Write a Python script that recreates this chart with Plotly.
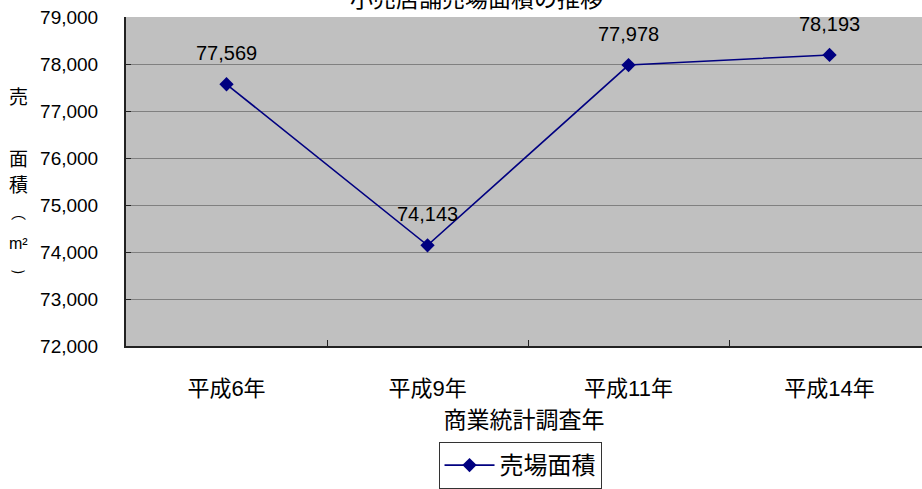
import plotly.graph_objects as go

categories = ["平成6年", "平成9年", "平成11年", "平成14年"]
values = [77569, 74143, 77978, 78193]
y_ticks = [72000, 73000, 74000, 75000, 76000, 77000, 78000, 79000]
y_tick_labels = [f"{v:,}" for v in y_ticks]

FONT = "Liberation Sans, Arial, Noto Sans CJK JP"
NAVY = "#000080"

fig = go.Figure()
fig.add_trace(go.Scatter(
    x=categories, y=values, mode="lines+markers", name="売場面積",
    line=dict(color=NAVY, width=1.6),
    marker=dict(symbol="diamond", size=11, color=NAVY),
))

annotations = []
for c, v in zip(categories, values):
    annotations.append(dict(x=c, y=v, xref="x", yref="y", text=f"{v:,}",
                            showarrow=False, yanchor="middle", yshift=31,
                            font=dict(size=20, color="black", family=FONT)))

# vertical y-axis title characters: (text, pixel y, size, family)
CJK = "Noto Sans CJK JP"
ARC = "DejaVu Sans, Noto Sans CJK JP"
ytitle_chars = [("売", 97, 19, CJK), ("面", 160, 19, CJK), ("積", 186, 19, CJK),
                ("⌒", 227, 15, ARC), ("m²", 247, 16, FONT),
                ("‿", 268, 15, ARC)]
for ch, py, sz, fam in ytitle_chars:
    annotations.append(dict(x=0, xshift=18 - 126, xref="paper", y=(351 - py) / 334, yref="paper",
                            text=ch, showarrow=False, xanchor="center", yanchor="middle",
                            borderpad=0,
                            font=dict(size=sz, color="black", family=fam)))

annotations.append(dict(x=0.44, xref="paper", y=1 + 18 / 334, yref="paper",
                        text="小売店舗売場面積の推移", showarrow=False,
                        xanchor="center", yanchor="middle",
                        font=dict(size=23, color="black", family=FONT)))

fig.update_layout(
    width=922, height=489,
    margin=dict(l=126, r=0, t=17, b=138),
    paper_bgcolor="white", plot_bgcolor="#c0c0c0",
    font=dict(family=FONT, color="black"),
    showlegend=True,
    legend=dict(orientation="h", x=0.495, xanchor="center", y=-0.293, yanchor="top",
                bordercolor="#333333", borderwidth=1, bgcolor="white",
                itemwidth=50,
                font=dict(size=24, family=FONT)),
    annotations=annotations,
    xaxis=dict(
        type="category", range=[-0.5, 3.46],
        showline=True, linecolor="#222222", linewidth=1.5,
        ticks="inside", tickson="boundaries", ticklen=6, tickcolor="#222222",
        showgrid=False, tickfont=dict(size=22, family=FONT),
        ticklabelstandoff=22,
        title=dict(text="商業統計調査年", font=dict(size=23, family=FONT), standoff=12),
    ),
    yaxis=dict(
        range=[72000, 79000], tickvals=y_ticks, ticktext=y_tick_labels,
        showline=True, linecolor="#222222", linewidth=2,
        ticks="inside", ticklen=5, tickcolor="#222222",
        showgrid=True, gridcolor="#808080", gridwidth=1,
        tickfont=dict(size=19, family=FONT), ticklabelstandoff=22,
        zeroline=False,
    ),
)

fig.write_html("out.html")
